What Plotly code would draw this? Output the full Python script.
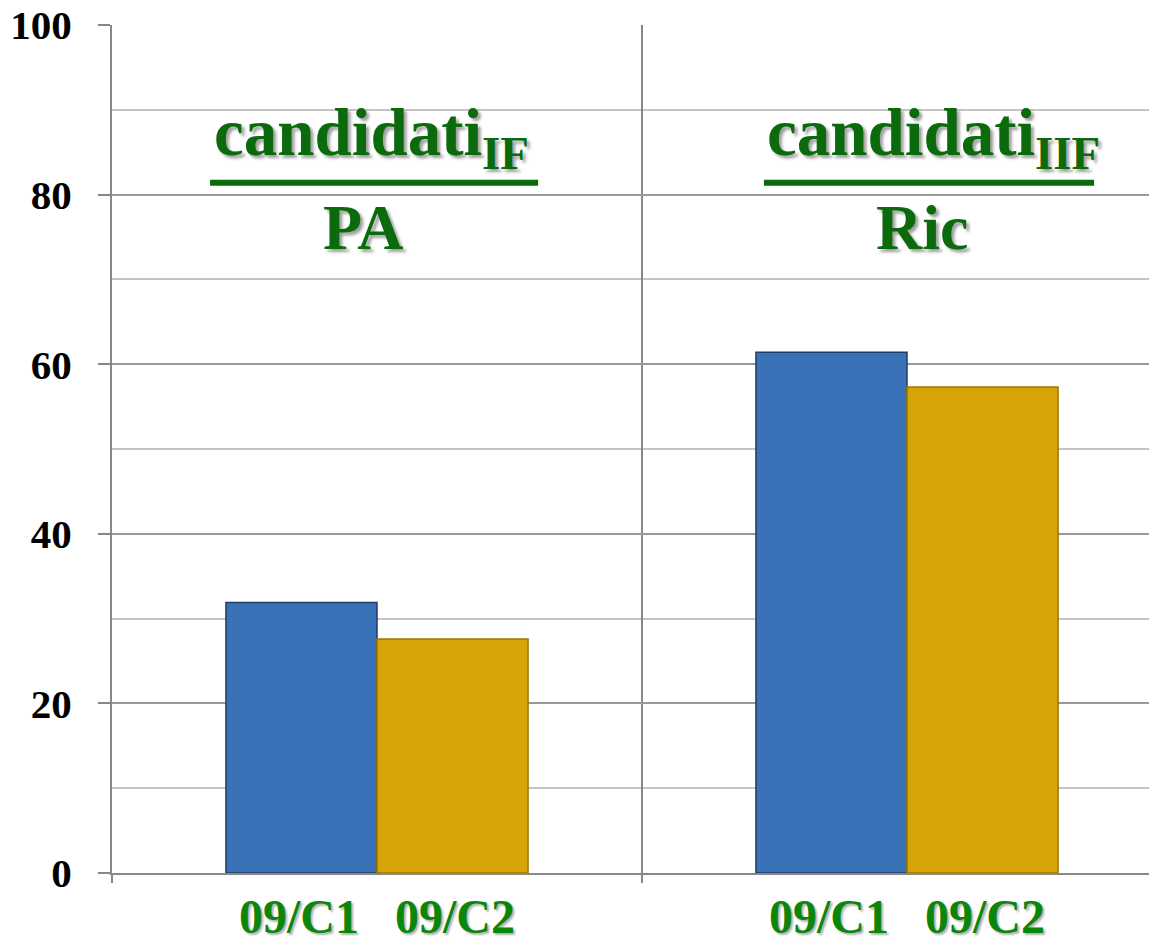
import plotly.graph_objects as go

# data
groups = ["PA", "Ric"]
series_names = ["09/C1", "09/C2"]
c1_values = [31.9, 61.4]
c2_values = [27.6, 57.3]
numerators = ["candidati<sub>IF</sub>", "candidati<sub>IIF</sub>"]
y_ticks = [0, 20, 40, 60, 80, 100]

serif = "Liberation Serif"
title_green = "#0b6a0b"
label_green = "#0a860a"
shadow = "3px 3px 3px #a0a0a0"

fig = go.Figure()
fig.add_trace(go.Bar(
    x=groups, y=c1_values, name=series_names[0],
    marker=dict(color="#3a72b8", line=dict(color="#1f3d66", width=1.5)),
))
fig.add_trace(go.Bar(
    x=groups, y=c2_values, name=series_names[1],
    marker=dict(color="#d6a406", line=dict(color="#9c7700", width=1.5)),
))

# white boxes hiding the grid behind the fraction titles
boxes = [(-0.375, 0.34), (-0.33, 0.40)]
# fraction bars
fbars = [(-0.315, 0.304), (-0.27, 0.353)]
num_shift = [-0.01, 0.05]
den_shift = [-0.025, 0.028]
for i, g in enumerate(groups):
    fig.add_shape(type="rect", xref="x", yref="y",
                  x0=i + boxes[i][0], x1=i + boxes[i][1], y0=72, y1=97,
                  fillcolor="white", line=dict(width=0), layer="below")
    fig.add_shape(type="line", xref="x", yref="y",
                  x0=i + fbars[i][0], x1=i + fbars[i][1], y0=81.4, y1=81.4,
                  line=dict(color=title_green, width=6))
    fig.add_annotation(x=i + num_shift[i], y=81.6, xref="x", yref="y",
                       text="<b>" + numerators[i] + "</b>", showarrow=False,
                       yanchor="bottom", xanchor="center",
                       font=dict(family=serif, size=67, color=title_green, shadow=shadow))
    fig.add_annotation(x=i + den_shift[i], y=80.6, xref="x", yref="y",
                       text="<b>" + g + "</b>", showarrow=False,
                       yanchor="top", xanchor="center",
                       font=dict(family=serif, size=64, color=title_green, shadow=shadow))

sp = "&nbsp;" * 3
# the page body adds an 8px margin, so the figure is 8px smaller than the window;
# the right category runs a little past the picture edge, as in the original
fig.update_layout(
    width=1149, height=934,
    margin=dict(l=104, r=0, t=17, b=69),
    paper_bgcolor="white", plot_bgcolor="white",
    barmode="group", bargap=0.43, bargroupgap=0,
    showlegend=False,
    xaxis=dict(
        tickmode="array", tickvals=groups,
        ticktext=["<b>" + series_names[0] + sp + series_names[1] + "</b>"] * len(groups),
        tickfont=dict(family=serif, size=48, color=label_green, shadow="2px 2px 2px #b0b0b0"),
        tickson="boundaries", ticks="outside", ticklen=8, tickwidth=2, tickcolor="#888888",
        showgrid=True, gridcolor="#888888", gridwidth=2,
        showline=True, linecolor="#888888", linewidth=2,
        range=[-0.5, 1.4717], automargin=False,
    ),
    yaxis=dict(
        range=[0, 100], tickvals=y_ticks,
        tickfont=dict(family=serif, size=41, color="black", weight="bold"),
        ticks="outside", ticklen=12, tickwidth=2, tickcolor="#888888",
        ticklabelstandoff=18, ticklabeloverflow="allow",
        showgrid=True, gridcolor="#999999", gridwidth=2,
        minor=dict(dtick=10, showgrid=True, gridcolor="#c4c4c4", gridwidth=2, ticks=""),
        showline=True, linecolor="#888888", linewidth=2,
        zeroline=False, automargin=False,
    ),
)

fig.write_html("out.html")
